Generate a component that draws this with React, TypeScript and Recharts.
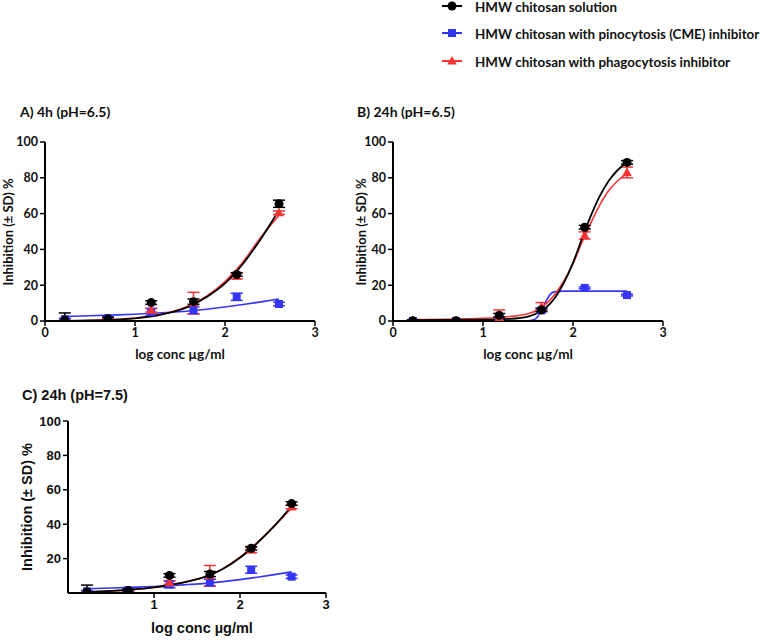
import React from 'react';
import { ComposedChart, Line, Scatter, XAxis, YAxis, ErrorBar } from 'recharts';

// ---------- data ----------
const logConc = [0.22, 0.7, 1.18, 1.65, 2.13, 2.6];

// Panel A: 4h pH 6.5
const aSolution = [0.5, 1.2, 10.3, 10.8, 26, 65.5];
const aSolutionSd = [4, 1, 1, 1.5, 1, 2];
const aCme = [1, 1.5, 5, 6, 13.5, 9.5];
const aCmeSd = [0.5, 0.5, 2, 2, 2, 1];
const aPhago = [0, 0.8, 6, 10, 25, 60.5];
const aPhagoSd = [0.5, 0.5, 1, 6, 1.5, 1];
const aFitX = [0.22, 0.5, 0.8, 1.0, 1.2, 1.4, 1.6, 1.8, 2.0, 2.2, 2.4, 2.6];
const aSolutionFit = [0.1, 0.3, 0.8, 1.5, 2.8, 4.8, 8, 13.5, 21, 32, 46, 62];
const aPhagoFit = [0.1, 0.3, 0.9, 1.6, 3, 5, 8.5, 14, 22, 33, 47, 59];
const aCmeFit = [2.5, 2.9, 3.4, 3.8, 4.3, 4.9, 5.6, 6.6, 7.8, 9.2, 10.7, 12.3];

// Panel B: 24h pH 6.5
const bSolution = [0.2, 0.2, 3.2, 6.2, 52.4, 88.6];
const bSolutionSd = [0.5, 0.5, 1, 1, 1, 1];
const bCme = [0, 0, 1, 6, 18.5, 14.5];
const bCmeSd = [0.3, 0.3, 0.3, 0.5, 0.5, 0.5];
const bPhago = [0, 0.2, 2, 8, 47.8, 83];
const bPhagoSd = [0.5, 0.5, 4.2, 2.3, 2, 3];
const bFitX = [0.22, 1.0, 1.3, 1.5, 1.6, 1.7, 1.8, 1.9, 2.0, 2.1, 2.2, 2.3, 2.4, 2.5, 2.6];
const bSolutionFit = [0.5, 0.7, 1.2, 2.5, 4.3, 7.5, 13, 21.5, 32.5, 46, 59, 70, 78.5, 84.5, 88.5];
const bPhagoFit = [0.8, 1.5, 2.5, 4, 6, 9.5, 15, 22.5, 32, 44, 55, 65, 73, 78.5, 82.5];
const bCmeFitX = [0.22, 1.0, 1.5, 1.55, 1.6, 1.65, 1.7, 1.75, 1.8, 1.9, 2.2, 2.6];
const bCmeFit = [0, 0, 0.1, 0.5, 2, 6, 11, 15, 16.4, 16.7, 16.7, 16.7];

// Panel C: 24h pH 7.5
const cSolution = [0.6, 1.4, 10.2, 11, 26, 52];
const cSolutionSd = [4, 1, 1, 1.5, 1, 1];
const cCme = [1, 1.5, 5, 6, 13.5, 9.5];
const cCmeSd = [0.5, 0.5, 2, 2, 2, 1];
const cPhago = [0, 0.8, 6, 10, 25, 50];
const cPhagoSd = [0.5, 0.5, 1, 6, 1.5, 1];
const cFitX = [0.22, 0.5, 0.8, 1.0, 1.2, 1.4, 1.6, 1.8, 2.0, 2.2, 2.4, 2.6];
const cSolutionFit = [0.5, 1.2, 2.3, 3.3, 4.8, 6.8, 9.5, 14, 20.5, 29, 39, 50.5];
const cPhagoFit = [0.4, 1.1, 2.2, 3.2, 4.7, 6.8, 9.6, 14.2, 20.8, 29.3, 39, 49.5];
const cCmeFit = [2.5, 2.9, 3.4, 3.8, 4.3, 4.9, 5.6, 6.6, 7.8, 9.2, 10.7, 12.3];

const legendLabels = [
  'HMW chitosan solution',
  'HMW chitosan with pinocytosis (CME) inhibitor',
  'HMW chitosan with phagocytosis inhibitor',
];
const panelTitles = ['A) 4h (pH=6.5)', 'B) 24h (pH=6.5)', 'C) 24h (pH=7.5)'];
const xTitle = 'log conc µg/ml';
const yTitle = 'Inhibition (± SD) %';

// ---------- styles ----------
const BLACK = '#000000';
const BLUE = '#3535F5';
const RED = '#F53535';
const CAL = 'Lato, "Open Sans", sans-serif';
const ARI = '"Liberation Sans", Arial, sans-serif';

// error bars: lower part limited to the axis floor, upper part full SD
const pts = (xs: number[], ys: number[], sd?: number[]) =>
  xs.map((x, i) => ({ x, y: ys[i], sd: sd ? [Math.min(sd[i], ys[i]), sd[i]] : [0, 0] }));

const Circle = (p: any) => <circle cx={p.cx} cy={p.cy} r={4.5} fill={BLACK} />;
const Square = (p: any) => <rect x={p.cx - 4} y={p.cy - 4} width={8} height={8} fill={BLUE} />;
const Tri = (p: any) => (
  <polygon
    points={`${p.cx},${p.cy - 5} ${p.cx + 4.8},${p.cy + 3.5} ${p.cx - 4.8},${p.cy + 3.5}`}
    fill={RED}
  />
);

type PanelProps = {
  left: number;
  top: number;
  width: number;
  height: number;
  margin: { top: number; right: number; left: number; bottom: number };
  yWidth: number;
  xHeight: number;
  xTicks: number[];
  yTicks: number[];
  font: string;
  fontSize: number;
  solution: any[];
  cme: any[];
  phago: any[];
  solutionFit: any[];
  cmeFit: any[];
  phagoFit: any[];
};

function Panel(p: PanelProps) {
  const tick = { fill: '#111', fontFamily: p.font, fontSize: p.fontSize, fontWeight: 700 };
  return (
    <div style={{ position: 'absolute', left: p.left, top: p.top }}>
      <ComposedChart width={p.width} height={p.height} margin={p.margin}>
        <XAxis
          type="number"
          dataKey="x"
          domain={[0, 3]}
          ticks={p.xTicks}
          allowDataOverflow
          height={p.xHeight}
          axisLine={{ stroke: '#000', strokeWidth: 2 }}
          tickLine={{ stroke: '#000', strokeWidth: 1.5 }}
          tickSize={5}
          tick={tick}
          interval={0}
        />
        <YAxis
          type="number"
          dataKey="y"
          domain={[0, 100]}
          ticks={p.yTicks}
          allowDataOverflow
          width={p.yWidth}
          axisLine={{ stroke: '#000', strokeWidth: 2 }}
          tickLine={{ stroke: '#000', strokeWidth: 1.5 }}
          tickSize={5}
          tick={tick}
          interval={0}
        />
        <Line data={p.cmeFit} dataKey="y" type="monotone" stroke={BLUE} strokeWidth={1.6} dot={false} isAnimationActive={false} />
        <Scatter data={p.cme} dataKey="y" shape={Square} isAnimationActive={false}>
          <ErrorBar dataKey="sd" direction="y" width={6} stroke={BLUE} strokeWidth={1.5} />
        </Scatter>
        <Line data={p.phagoFit} dataKey="y" type="monotone" stroke={RED} strokeWidth={1.6} dot={false} isAnimationActive={false} />
        <Scatter data={p.phago} dataKey="y" shape={Tri} isAnimationActive={false}>
          <ErrorBar dataKey="sd" direction="y" width={6} stroke={RED} strokeWidth={1.5} />
        </Scatter>
        <Line data={p.solutionFit} dataKey="y" type="monotone" stroke={BLACK} strokeWidth={1.8} dot={false} isAnimationActive={false} />
        <Scatter data={p.solution} dataKey="y" shape={Circle} isAnimationActive={false}>
          <ErrorBar dataKey="sd" direction="y" width={6} stroke={BLACK} strokeWidth={1.5} />
        </Scatter>
      </ComposedChart>
    </div>
  );
}

function Overlay() {
  const cal = { fontFamily: CAL, fontWeight: 700, fill: '#111' } as const;
  const ari = { fontFamily: ARI, fontWeight: 700, fill: '#111' } as const;
  const legendY = [6, 33, 61];
  const colors = [BLACK, BLUE, RED];
  return (
    <svg width={760} height={640} style={{ position: 'absolute', left: 0, top: 0, pointerEvents: 'none' }}>
      {legendLabels.map((t, i) => (
        <g key={t}>
          <line x1={442} x2={462} y1={legendY[i]} y2={legendY[i]} stroke={colors[i]} strokeWidth={2} />
          {i === 0 && <circle cx={452} cy={legendY[i]} r={4.5} fill={BLACK} />}
          {i === 1 && <rect x={448} y={legendY[i] - 4} width={8} height={8} fill={BLUE} />}
          {i === 2 && (
            <polygon points={`452,${legendY[i] - 5} 456.8,${legendY[i] + 3.5} 447.2,${legendY[i] + 3.5}`} fill={RED} />
          )}
          <text x={475} y={legendY[i] + 1.5} dy="0.35em" fontSize={13.4} {...cal}>{t}</text>
        </g>
      ))}
      <text x={20} y={117} fontSize={14} {...cal}>{panelTitles[0]}</text>
      <text x={357} y={117} fontSize={14} {...cal}>{panelTitles[1]}</text>
      <text x={22} y={400} fontSize={14.5} {...ari}>{panelTitles[2]}</text>

      <text x={180} y={359} fontSize={13.5} textAnchor="middle" {...cal}>{xTitle}</text>
      <text x={528} y={359} fontSize={13.5} textAnchor="middle" {...cal}>{xTitle}</text>
      <text x={202} y={633} fontSize={14.5} textAnchor="middle" {...ari}>{xTitle}</text>

      <text transform="translate(13,232) rotate(-90)" fontSize={13} textAnchor="middle" {...cal}>{yTitle}</text>
      <text transform="translate(366,232) rotate(-90)" fontSize={13} textAnchor="middle" {...cal}>{yTitle}</text>
      <text transform="translate(32,507) rotate(-90)" fontSize={14.5} textAnchor="middle" {...ari}>{yTitle}</text>
    </svg>
  );
}

export default function App() {
  return (
    <div style={{ position: 'absolute', left: 0, top: 0, width: 760, height: 640, background: '#fff' }}>
      <Panel
        left={0}
        top={100}
        width={340}
        height={270}
        margin={{ top: 42, right: 25, left: 0, bottom: 0 }}
        yWidth={45}
        xHeight={49}
        xTicks={[0, 1, 2, 3]}
        yTicks={[0, 20, 40, 60, 80, 100]}
        font={CAL}
        fontSize={12.5}
        solution={pts(logConc, aSolution, aSolutionSd)}
        cme={pts(logConc, aCme, aCmeSd)}
        phago={pts(logConc, aPhago, aPhagoSd)}
        solutionFit={pts(aFitX, aSolutionFit)}
        cmeFit={pts(aFitX, aCmeFit)}
        phagoFit={pts(aFitX, aPhagoFit)}
      />
      <Panel
        left={348}
        top={100}
        width={340}
        height={270}
        margin={{ top: 42, right: 25, left: 0, bottom: 0 }}
        yWidth={45}
        xHeight={49}
        xTicks={[0, 1, 2, 3]}
        yTicks={[0, 20, 40, 60, 80, 100]}
        font={CAL}
        fontSize={12.5}
        solution={pts(logConc, bSolution, bSolutionSd)}
        cme={pts(logConc, bCme, bCmeSd)}
        phago={pts(logConc, bPhago, bPhagoSd)}
        solutionFit={pts(bFitX, bSolutionFit)}
        cmeFit={pts(bCmeFitX, bCmeFit)}
        phagoFit={pts(bFitX, bPhagoFit)}
      />
      <Panel
        left={0}
        top={380}
        width={350}
        height={240}
        margin={{ top: 41, right: 24, left: 0, bottom: 0 }}
        yWidth={68}
        xHeight={27}
        xTicks={[1, 2, 3]}
        yTicks={[20, 40, 60, 80, 100]}
        font={ARI}
        fontSize={13}
        solution={pts(logConc, cSolution, cSolutionSd)}
        cme={pts(logConc, cCme, cCmeSd)}
        phago={pts(logConc, cPhago, cPhagoSd)}
        solutionFit={pts(cFitX, cSolutionFit)}
        cmeFit={pts(cFitX, cCmeFit)}
        phagoFit={pts(cFitX, cPhagoFit)}
      />
      <Overlay />
    </div>
  );
}
